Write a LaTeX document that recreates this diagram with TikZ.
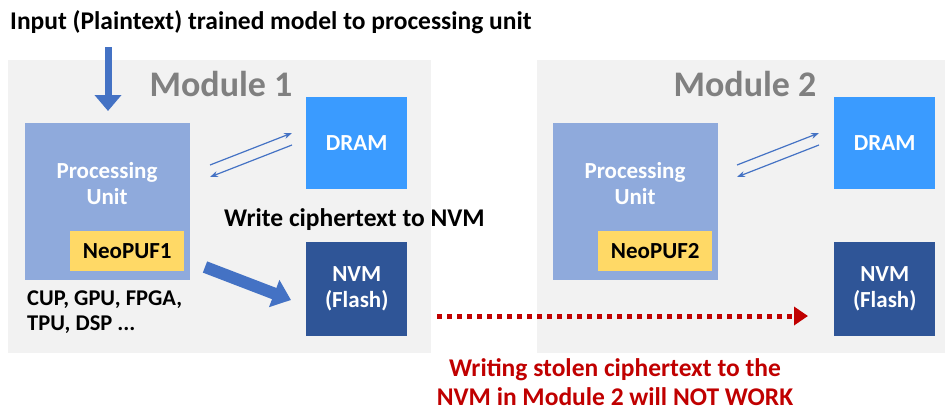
\documentclass[tikz,border=0pt]{standalone}
\usepackage{fontspec}
\setmainfont{Carlito}
\usetikzlibrary{arrows.meta}
\definecolor{bgg}{HTML}{F2F2F2}
\definecolor{pu}{HTML}{8FAADC}
\definecolor{dram}{HTML}{3A9BFF}
\definecolor{nvm}{HTML}{2F5597}
\definecolor{puf}{HTML}{FFD966}
\definecolor{arr}{HTML}{4472C4}
\definecolor{red}{HTML}{C00000}
\definecolor{modg}{HTML}{808080}
\begin{document}
\begin{tikzpicture}[x=1pt,y=-1pt,
  box/.style={draw=none,text=white,font=\bfseries\fontsize{23}{26}\selectfont,align=center},
  modlabel/.style={text=modg,font=\bfseries\fontsize{36}{40}\selectfont},
  blk/.style={font=\bfseries\fontsize{25.5}{30}\selectfont,align=left},
  thin/.style={arr,line width=1.2pt,-{Stealth[length=8pt,width=6pt]}}]
\useasboundingbox (0,0) rectangle (945,410);
% module backgrounds
\fill[bgg] (8,60) rectangle (431,353);
\fill[bgg] (537,60) rectangle (945,353);
\node[modlabel] (m1) at (221,84) {Module 1};
\node[modlabel] (m2) at (745,84) {Module 2};
% title
\node[blk,anchor=west,inner sep=0] (title) at (10,22) {Input (Plaintext) trained model to processing unit};
% module 1
\node[box,fill=pu,minimum width=165pt,minimum height=157pt,anchor=north west,inner sep=0] (pu1) at (25,123) {};
\node[box,anchor=center] (pu1t) at (107,184) {Processing\\Unit};
\node[box,fill=puf,text=black,minimum width=114pt,minimum height=40pt,anchor=north west,inner sep=0] (puf1) at (70,231) {NeoPUF1};
\node[box,fill=dram,minimum width=101pt,minimum height=92pt,anchor=north west,inner sep=0] (dram1) at (306,97) {DRAM};
\node[box,fill=nvm,minimum width=101pt,minimum height=94pt,anchor=north west,inner sep=0] (nvm1) at (306,242) {NVM\\(Flash)};
\node[blk,anchor=west,inner sep=0] (wct) at (224,220) {Write ciphertext to NVM};
\node[font=\bfseries\fontsize{22.5}{25}\selectfont,align=left,anchor=west,inner sep=0] (cpu) at (27,312) {CUP, GPU, FPGA,\\TPU, DSP ...};
% module 2
\node[box,fill=pu,minimum width=165pt,minimum height=157pt,anchor=north west,inner sep=0] (pu2) at (553,123) {};
\node[box,anchor=center] (pu2t) at (635,184) {Processing\\Unit};
\node[box,fill=puf,text=black,minimum width=114pt,minimum height=40pt,anchor=north west,inner sep=0] (puf2) at (598,231) {NeoPUF2};
\node[box,fill=dram,minimum width=101pt,minimum height=92pt,anchor=north west,inner sep=0] (dram2) at (834,97) {DRAM};
\node[box,fill=nvm,minimum width=101pt,minimum height=94pt,anchor=north west,inner sep=0] (nvm2) at (834,242) {NVM\\(Flash)};
% input arrow
\coordinate (inS) at (108,47);
\coordinate (inE) at (108,111);
\draw[arr,line width=7pt,-{Triangle[length=16pt,width=26pt]}] (inS) -- (inE);
% pu-dram arrows
\coordinate (a1s) at (210,165); \coordinate (a1e) at (292,133);
\coordinate (a2s) at (292,145); \coordinate (a2e) at (210,177);
\draw[thin] (a1s) -- (a1e);
\draw[thin] (a2s) -- (a2e);
\coordinate (b1s) at (737,165); \coordinate (b1e) at (819,133);
\coordinate (b2s) at (819,145); \coordinate (b2e) at (737,177);
\draw[thin] (b1s) -- (b1e);
\draw[thin] (b2s) -- (b2e);
% thick write arrow
\coordinate (wS) at (205,267);
\coordinate (wE) at (291,300);
\draw[arr,line width=12pt,-{Triangle[length=18pt,width=28pt]}] (wS) -- (wE);
% red dotted
\coordinate (rS) at (437,316);
\coordinate (rE) at (808,316);
\draw[red,line width=5pt,dash pattern=on 5pt off 5pt,-{Triangle[length=14pt,width=18pt]}] (rS) -- (rE);
\node[text=red,font=\bfseries\fontsize{25.5}{29}\selectfont,align=center] (rt) at (615,382) {Writing stolen ciphertext to the\\NVM in Module 2 will NOT WORK};
\end{tikzpicture}
\end{document}
